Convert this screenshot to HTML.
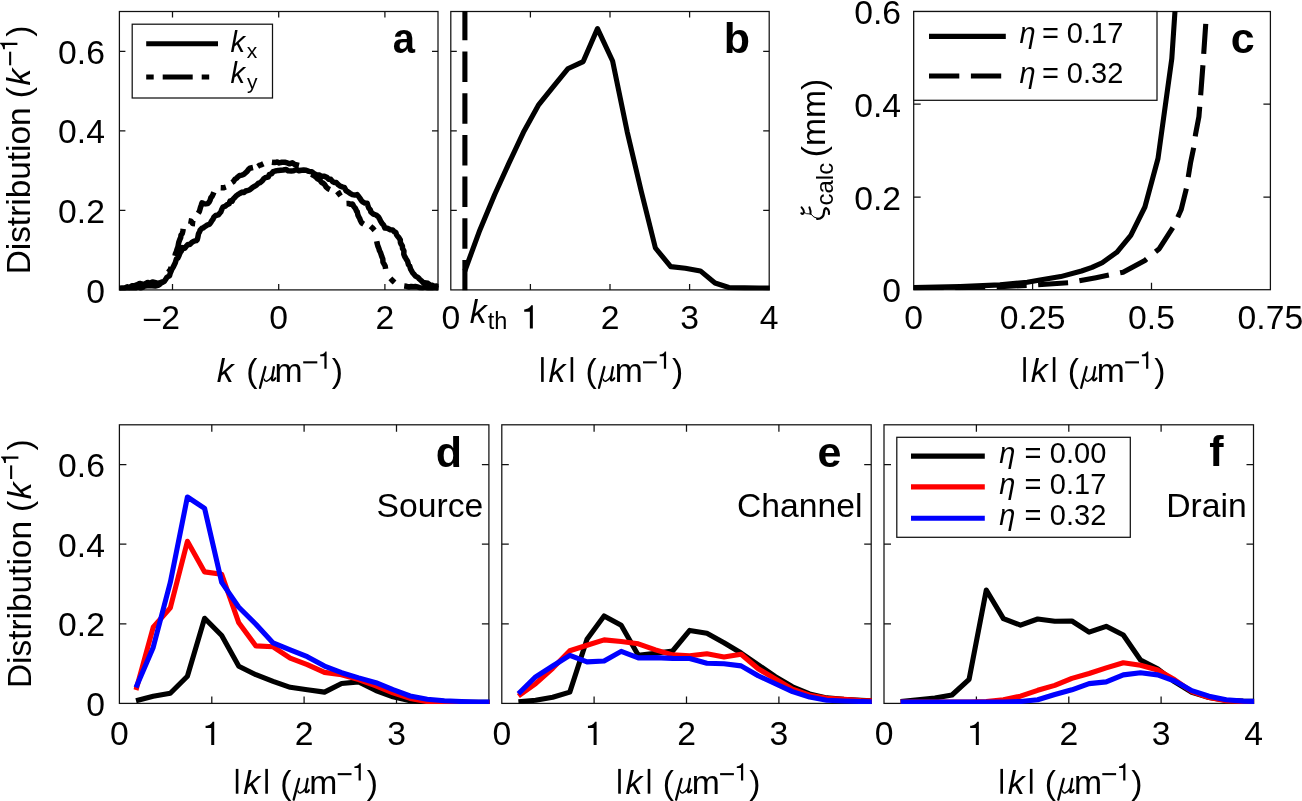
<!DOCTYPE html>
<html><head><meta charset="utf-8"><style>
html,body{margin:0;padding:0;background:#fff;}
body{width:1302px;height:801px;overflow:hidden;font-family:"Liberation Sans",sans-serif;}
svg{display:block;will-change:transform;}
</style></head><body>
<svg width="1302" height="801" viewBox="0 0 1302 801" font-family="'Liberation Sans', sans-serif">
<rect width="1302" height="801" fill="#fff"/>
<defs>
<clipPath id="cpa"><rect x="118.8" y="10.9" width="319.8" height="279.6"/></clipPath>
<clipPath id="cpb"><rect x="450.2" y="10.9" width="319.6" height="279.6"/></clipPath>
<clipPath id="cpc"><rect x="913.1" y="10.9" width="357.9" height="279.4"/></clipPath>
<clipPath id="cpd"><rect x="118.8" y="424.2" width="370.7" height="279.8"/></clipPath>
<clipPath id="cpe"><rect x="501.2" y="424.2" width="370.6" height="279.8"/></clipPath>
<clipPath id="cpf"><rect x="883.4" y="424.2" width="370.7" height="279.8"/></clipPath>
</defs>
<path d="M172.5 289.9V283.9M172.5 11.5V17.5M278.7 289.9V283.9M278.7 11.5V17.5M384.9 289.9V283.9M384.9 11.5V17.5M119.4 210.4H125.4M438 210.4H432M119.4 130.8H125.4M438 130.8H432M119.4 51.3H125.4M438 51.3H432" stroke="#111" stroke-width="1.25" fill="none"/>
<rect x="119.4" y="11.5" width="318.6" height="278.4" stroke="#111" stroke-width="1.25" fill="none"/>
<path d="M530.4 289.9V283.9M530.4 11.5V17.5M610 289.9V283.9M610 11.5V17.5M689.6 289.9V283.9M689.6 11.5V17.5M450.8 210.4H456.8M769.2 210.4H763.2M450.8 130.8H456.8M769.2 130.8H763.2M450.8 51.3H456.8M769.2 51.3H763.2" stroke="#111" stroke-width="1.25" fill="none"/>
<rect x="450.8" y="11.5" width="318.4" height="278.4" stroke="#111" stroke-width="1.25" fill="none"/>
<path d="M1032.6 289.7V282.7M1032.6 11.5V18.5M1151.5 289.7V282.7M1151.5 11.5V18.5M913.7 197H920.7M1270.4 197H1263.4M913.7 104.2H920.7M1270.4 104.2H1263.4" stroke="#111" stroke-width="1.25" fill="none"/>
<rect x="913.7" y="11.5" width="356.7" height="278.2" stroke="#111" stroke-width="1.25" fill="none"/>
<path d="M211.8 703.4V696.4M211.8 424.8V431.8M304.1 703.4V696.4M304.1 424.8V431.8M396.5 703.4V696.4M396.5 424.8V431.8M119.4 623.8H126.4M488.9 623.8H481.9M119.4 544.2H126.4M488.9 544.2H481.9M119.4 464.6H126.4M488.9 464.6H481.9" stroke="#111" stroke-width="1.25" fill="none"/>
<rect x="119.4" y="424.8" width="369.5" height="278.6" stroke="#111" stroke-width="1.25" fill="none"/>
<path d="M594.1 703.4V696.4M594.1 424.8V431.8M686.5 703.4V696.4M686.5 424.8V431.8M778.9 703.4V696.4M778.9 424.8V431.8M501.8 623.8H508.8M871.2 623.8H864.2M501.8 544.2H508.8M871.2 544.2H864.2M501.8 464.6H508.8M871.2 464.6H864.2" stroke="#111" stroke-width="1.25" fill="none"/>
<rect x="501.8" y="424.8" width="369.4" height="278.6" stroke="#111" stroke-width="1.25" fill="none"/>
<path d="M976.4 703.4V696.4M976.4 424.8V431.8M1068.8 703.4V696.4M1068.8 424.8V431.8M1161.1 703.4V696.4M1161.1 424.8V431.8M884 623.8H891M1253.5 623.8H1246.5M884 544.2H891M1253.5 544.2H1246.5M884 464.6H891M1253.5 464.6H1246.5" stroke="#111" stroke-width="1.25" fill="none"/>
<rect x="884" y="424.8" width="369.5" height="278.6" stroke="#111" stroke-width="1.25" fill="none"/>
<g clip-path="url(#cpa)">
<path d="M119.4 288.2 L121.8 288.1 L124.5 288 L127.4 286.8 L129.3 287.5 L132 285.7 L135.1 285.4 L137.4 284.7 L139.7 283.4 L142.3 284.4 L144.8 283.9 L147.6 282.5 L150.2 283.2 L152.5 282 L155.7 282.7 L158.2 283.3 L160.3 282.8 L162 281.9 L164.2 281.6 L166.2 278.5 L167.1 277.1 L169.5 275.9 L170.2 273.3 L171.1 271.1 L171.9 269.1 L173.1 267.3 L174.2 265 L175.3 262.8 L176.4 259 L177.8 258.2 L179.1 255.3 L180.2 252.4 L181.5 250.8 L182.3 247.6 L184.7 248.2 L185.9 246.7 L188 244.4 L189.8 244.4 L192.3 242.1 L194.1 241.1 L196.2 240.6 L197.2 239.7 L197.8 237.6 L198.5 233.8 L199.6 231.7 L200.1 230.2 L202 228.3 L203 228.1 L204.7 226.7 L207.5 224.9 L209.4 224.4 L210.7 222.7 L211.7 220.9 L213.2 218.8 L213.8 217.3 L215.7 215.5 L218.3 214.9 L219.9 213 L220.8 212 L221.5 210.1 L223 207.1 L225 206.3 L227.1 204.6 L229.1 203.8 L230 201.1 L232.1 201.3 L233.2 198.9 L235 197.2 L236.3 195.7 L237.8 194.7 L239.7 193.5 L242.1 192.1 L244 192.6 L245.7 191 L248.2 190.3 L249.6 189.9 L252.1 187.8 L253.7 186.7 L256.2 185.4 L258.2 183.4 L259.8 182.8 L262.2 180.9 L263.7 178.8 L265.9 177.4 L268.2 177.1 L269.3 174.6 L271.6 173.7 L273.3 171.6 L275.2 171 L278.4 170.4 L280.6 170.2 L283.2 170 L286.2 169.5 L288 170.8 L291.3 170.9 L293.5 170.8 L296.5 169.5 L298.9 170.7 L301.4 170.2 L303.6 170 L306.1 170.3 L308.9 171.4 L311.7 171.8 L314.3 173.7 L316.9 174.9 L319.5 175.1 L321.2 176.2 L323.9 176.2 L326.9 177.3 L328.6 179.2 L330.8 179.3 L332.4 181.4 L334.5 182.4 L336.3 182.5 L338.4 184.8 L340 185.9 L342.6 187.1 L344.4 187.4 L346.1 190.8 L347.5 191.5 L350 193.3 L352.4 194.6 L354.9 195.1 L357.1 194.6 L358.5 196.2 L360.7 199.4 L361.3 200.5 L362.8 201.9 L364.9 203.1 L367.2 203.2 L367.8 205.4 L368.8 208.1 L370.4 210 L370.8 211.9 L373.4 214.1 L376.1 215 L378.4 216.8 L379.4 218.6 L380.8 221.4 L382.1 223.5 L383.5 224.9 L384.9 228 L387.3 228.2 L390.3 229.7 L392.6 229.9 L394.4 231.8 L395.7 232.3 L396.6 234.8 L398.1 236.8 L399.3 238.3 L400.3 240 L400.4 242.4 L401 243.9 L402.4 246 L402.5 248.4 L403.9 250.8 L403.8 254.3 L404.7 256.5 L406 258.7 L407.1 260.4 L407.7 261.7 L408.5 264.7 L409.6 265.9 L410.7 269.3 L411.2 270.1 L412.8 273 L413.6 273.7 L415.5 276.1 L417.9 277.4 L419.4 279 L421.3 280.7 L423 282.5 L426 283 L427.9 283.3 L430 285 L432.2 285.3 L434.2 286.2 L436.7 286 L438.5 287.3" stroke="#000" stroke-width="5.5" fill="none" stroke-linejoin="round" stroke-linecap="butt"/>
<path d="M119.4 289 L121.6 289 L124.3 288.7 L126.2 288.8 L128.2 288.6 L130.9 288.9 L132.6 287.9 L135.1 288.6 L138 286.9 L140.7 288.3 L142.9 287.4 L144.8 286.1 L147.6 285.9 L149.7 285.9 L152.2 285.9 L155.3 286.2 L158 285.5 L159.8 284.4 L161.6 282.7 L163.5 282" stroke="#000" stroke-width="5.3" fill="none" stroke-linejoin="round" stroke-linecap="butt"/>
<path d="M168.2 272.4 L169.5 270.9 L170.4 269.4 L171.2 267.1" stroke="#000" stroke-width="5.5" fill="none" stroke-linejoin="round" stroke-linecap="butt"/>
<path d="M175 255.9 L175.4 253.9 L176.5 251.4 L176.9 249.6 L177.9 246.9 L178.4 244.3 L178.8 242.2 L179.8 239.5 L180.7 237.5 L181 235 L182.2 233.7 L182.8 231.3 L183.2 228.9" stroke="#000" stroke-width="5.5" fill="none" stroke-linejoin="round" stroke-linecap="butt"/>
<path d="M188.5 220.7 L191.1 221.2 L192.6 223.4 L195.2 223.7" stroke="#000" stroke-width="5.5" fill="none" stroke-linejoin="round" stroke-linecap="butt"/>
<path d="M198.2 213.2 L199.4 211.4 L200.4 207.7 L201.1 205.7 L202 202.9 L203.8 203.6 L205.8 203.9 L207.7 203.6 L209.1 202.1 L210 200.5 L210.9 197.6 L212.1 196.3 L213 194.4 L213.9 192.2" stroke="#000" stroke-width="5.5" fill="none" stroke-linejoin="round" stroke-linecap="butt"/>
<path d="M220.7 187.7 L223.4 187.8 L225.9 187" stroke="#000" stroke-width="5.5" fill="none" stroke-linejoin="round" stroke-linecap="butt"/>
<path d="M231.9 182.5 L233.3 181.6 L235.1 179.1 L236.7 178.2 L237.6 177.1 L239.7 175.5 L241.8 175.1 L243.6 174.5 L245.6 172.7 L247.1 171.4 L248.6 169.3 L249.8 168.2 L253 167.5" stroke="#000" stroke-width="5.5" fill="none" stroke-linejoin="round" stroke-linecap="butt"/>
<path d="M257.7 166.5 L259.8 165.2 L261.3 164.8 L263.4 163.8" stroke="#000" stroke-width="5.5" fill="none" stroke-linejoin="round" stroke-linecap="butt"/>
<path d="M271.9 162.3 L274.5 162.6 L277.3 162 L279.2 162.9 L281.9 162.3 L284.8 162.3 L287.4 162.9 L289.3 163.8 L292.3 162.8 L294.7 164.5 L296.9 165 L299 165.5" stroke="#000" stroke-width="5.5" fill="none" stroke-linejoin="round" stroke-linecap="butt"/>
<path d="M311.4 174.2 L313.3 175.3 L315.8 176.9 L317.6 178.9 L319.9 180.1 L321.6 182.5 L323 183.1 L324.6 184.6 L326.3 187.2 L328.1 188.7 L329.9 189.5" stroke="#000" stroke-width="5.5" fill="none" stroke-linejoin="round" stroke-linecap="butt"/>
<path d="M336.8 195.3 L339.1 193.5 L341.4 192.2" stroke="#000" stroke-width="5.5" fill="none" stroke-linejoin="round" stroke-linecap="butt"/>
<path d="M346.5 203.5 L348.6 203.4 L350.3 204.2 L352.5 203.9 L353.8 206.5 L355.4 208.3 L356.6 211.1 L357.3 211.9 L357.9 215 L358.9 217.2 L359.9 218.9 L360.2 220.1 L361.6 222.8 L363.7 224.1" stroke="#000" stroke-width="5.5" fill="none" stroke-linejoin="round" stroke-linecap="butt"/>
<path d="M370.5 226.2 L372.2 227.7 L374.6 230.3" stroke="#000" stroke-width="5.5" fill="none" stroke-linejoin="round" stroke-linecap="butt"/>
<path d="M376.7 241.3 L377.1 243.2 L378 246.4 L378.9 248.5 L379.4 250.5 L380.6 252.8 L381.5 255.6 L381.8 256.6 L382.8 259.1 L383 262.2 L384.4 264.7 L385.2 266.1 L385.6 268.8" stroke="#000" stroke-width="5.5" fill="none" stroke-linejoin="round" stroke-linecap="butt"/>
<path d="M390.4 278.4 L392.5 280.6 L394.6 282.5" stroke="#000" stroke-width="5.5" fill="none" stroke-linejoin="round" stroke-linecap="butt"/>
<path d="M404.2 286 L406.5 286.3 L409 287 L411.2 286.5 L413.5 286.8 L415.4 286.6 L417.8 286.9 L419.8 287.8 L422.5 288.1 L424.3 287.2 L426.8 288 L429.5 288.5 L431.9 288.3 L434 288.1 L436.1 288.1 L438.5 288.6" stroke="#000" stroke-width="5.5" fill="none" stroke-linejoin="round" stroke-linecap="butt"/>
</g>
<g clip-path="url(#cpb)">
<path d="M464.9 290.5V11" stroke="#000" stroke-width="5.1" stroke-dasharray="30.5 11.2"/>
<path d="M464.8 271 L479.8 230.2 L494.6 194.7 L509.3 162.4 L524 131.2 L538.8 104.6 L553.3 86.6 L567.8 68.8 L583.2 61.6 L597.5 28.6 L612.6 61 L627.2 131.8 L641.3 191.5 L655.4 248 L670.7 266.6 L685.3 268.2 L700.4 270.9 L715 283 L728.9 287.5 L744.3 287.9 L759 288 L770 288.1" stroke="#000" stroke-width="5.1" fill="none" stroke-linejoin="round" stroke-linecap="butt"/>
</g>
<g clip-path="url(#cpc)">
<path d="M913.7 287.6 L960 286.6 L1000 284.9 L1027.2 282.2 L1040 280.1 L1060.7 276.6 L1081.5 271 L1092 267.4 L1102.2 262.8 L1116.8 252.3 L1130.8 235.3 L1144.9 207 L1158 158.5 L1171.8 58.7 L1176.4 -10" stroke="#000" stroke-width="5.1" fill="none" stroke-linejoin="round" stroke-linecap="butt"/>
<path d="M913.7 288.2 L960 287.6 L1000 286.7 L1036.2 284.9 L1068.8 282.7 L1096 277.7 L1123.1 272.2 L1144.9 260.5 L1159.3 248.7 L1173.8 226 L1181.1 209.8 L1186.5 188 L1190.5 163 L1193.7 147.6 L1195.5 134.5 L1198.9 116.7 L1200.8 93.3 L1203 64.3 L1205.8 23.1" stroke="#000" stroke-width="5.1" fill="none" stroke-linejoin="round" stroke-linecap="butt" stroke-dasharray="30 11.5"/>
</g>
<g clip-path="url(#cpd)">
<path d="M136 700.8 L153.2 696.3 L170.3 693.3 L187.4 676.2 L204.6 618.3 L221.7 635.5 L238.8 666.3 L255.9 674.7 L273.1 681.3 L290.2 687.3 L307.3 689.7 L324.5 692.1 L341.6 683.5 L358.7 681.9 L375.9 690.5 L393 696.8 L410.1 700.8 L427.2 702 L444.4 702.2 L461.5 702.3 L478.6 702.3 L495.8 702.3" stroke="#000000" stroke-width="5.1" fill="none" stroke-linejoin="round" stroke-linecap="butt"/>
<path d="M136 690 L153.2 627.3 L170.3 607.9 L187.4 541.3 L204.6 571.9 L221.7 574.3 L238.8 622.8 L255.9 645.9 L273.1 646.8 L290.2 658.2 L307.3 664.6 L324.5 672.4 L341.6 674.8 L358.7 679.5 L375.9 685.8 L393 692.9 L410.1 698.4 L427.2 701.6 L444.4 702.3 L461.5 702.5 L478.6 702.5 L495.8 702.5" stroke="#ff0000" stroke-width="5.1" fill="none" stroke-linejoin="round" stroke-linecap="butt"/>
<path d="M136 687.6 L153.2 647.4 L170.3 582.4 L187.4 497 L204.6 508.4 L221.7 582.4 L238.8 607.3 L255.9 624.3 L273.1 642.9 L290.2 649.8 L307.3 656.7 L324.5 666.1 L341.6 672.7 L358.7 677.9 L375.9 682.7 L393 689.7 L410.1 696 L427.2 699.2 L444.4 700.8 L461.5 701.5 L478.6 702 L495.8 702" stroke="#0000ff" stroke-width="5.1" fill="none" stroke-linejoin="round" stroke-linecap="butt"/>
</g>
<g clip-path="url(#cpe)">
<path d="M518.4 701.8 L535.6 700.3 L552.7 697.2 L569.8 692.1 L587 639.2 L604.1 616 L621.2 625.3 L638.3 655.3 L655.5 653.3 L672.6 651 L689.7 630.4 L706.9 633.3 L724 642.7 L741.1 653 L758.2 664.8 L775.4 676.6 L792.5 686.8 L809.6 693.9 L826.8 697.9 L843.9 699.4 L861 700.2 L878.2 701" stroke="#000000" stroke-width="5.1" fill="none" stroke-linejoin="round" stroke-linecap="butt"/>
<path d="M518.4 696 L535.6 683.7 L552.7 668.3 L569.8 650.7 L587 645.3 L604.1 639.9 L621.2 641.5 L638.3 643.8 L655.5 649.9 L672.6 654.9 L689.7 655.7 L706.9 653.8 L724 656.9 L741.1 654.2 L758.2 668.7 L775.4 679 L792.5 689.2 L809.6 695.2 L826.8 698.3 L843.9 699.4 L861 700.5 L878.2 701" stroke="#ff0000" stroke-width="5.1" fill="none" stroke-linejoin="round" stroke-linecap="butt"/>
<path d="M518.4 693.7 L535.6 676.8 L552.7 666 L569.8 655.3 L587 661.9 L604.1 661 L621.2 651.4 L638.3 657.9 L655.5 657.6 L672.6 658.4 L689.7 658.5 L706.9 663.2 L724 663.7 L741.1 665.9 L758.2 675.8 L775.4 683.7 L792.5 691.6 L809.6 697.1 L826.8 700.2 L843.9 701 L861 701.5 L878.2 701.8" stroke="#0000ff" stroke-width="5.1" fill="none" stroke-linejoin="round" stroke-linecap="butt"/>
</g>
<g clip-path="url(#cpf)">
<path d="M900.6 701.5 L917.8 699.7 L934.9 698 L952 695 L969.1 679.3 L986.3 590 L1003.4 618.6 L1020.5 625.1 L1037.7 619 L1054.8 621.3 L1071.9 621 L1089.1 632.1 L1106.2 626.3 L1123.3 635 L1140.5 660 L1157.6 668.8 L1174.7 681.9 L1191.8 692.4 L1209 697.6 L1226.1 700.2 L1243.2 701.1 L1260.4 701.5" stroke="#000000" stroke-width="5.1" fill="none" stroke-linejoin="round" stroke-linecap="butt"/>
<path d="M900.6 702 L917.8 702 L934.9 702 L952 702 L969.1 702 L986.3 701.5 L1003.4 699.7 L1020.5 696.2 L1037.7 690.3 L1054.8 685.4 L1071.9 678.4 L1089.1 673.5 L1106.2 667.9 L1123.3 662.7 L1140.5 665.3 L1157.6 670 L1174.7 679.8 L1191.8 691.5 L1209 697.6 L1226.1 700.8 L1243.2 701.5 L1260.4 702" stroke="#ff0000" stroke-width="5.1" fill="none" stroke-linejoin="round" stroke-linecap="butt"/>
<path d="M900.6 702 L917.8 702 L934.9 702 L952 702 L969.1 702 L986.3 702 L1003.4 702 L1020.5 701.5 L1037.7 699.7 L1054.8 694.5 L1071.9 689.8 L1089.1 683.6 L1106.2 681.9 L1123.3 674.9 L1140.5 672.8 L1157.6 674.9 L1174.7 681 L1191.8 690.6 L1209 696.2 L1226.1 699.7 L1243.2 701.1 L1260.4 701.5" stroke="#0000ff" stroke-width="5.1" fill="none" stroke-linejoin="round" stroke-linecap="butt"/>
</g>
<text x="104.9" y="302.5" font-size="33.7" text-anchor="end" font-weight="normal" font-style="normal">0</text>
<text x="104.9" y="223" font-size="33.7" text-anchor="end" font-weight="normal" font-style="normal">0.2</text>
<text x="104.9" y="143.4" font-size="33.7" text-anchor="end" font-weight="normal" font-style="normal">0.4</text>
<text x="104.9" y="63.9" font-size="33.7" text-anchor="end" font-weight="normal" font-style="normal">0.6</text>
<text x="901" y="302.3" font-size="33.7" text-anchor="end" font-weight="normal" font-style="normal">0</text>
<text x="901" y="209.6" font-size="33.7" text-anchor="end" font-weight="normal" font-style="normal">0.2</text>
<text x="901" y="116.8" font-size="33.7" text-anchor="end" font-weight="normal" font-style="normal">0.4</text>
<text x="901" y="24.1" font-size="33.7" text-anchor="end" font-weight="normal" font-style="normal">0.6</text>
<text x="104.9" y="716" font-size="33.7" text-anchor="end" font-weight="normal" font-style="normal">0</text>
<text x="104.9" y="636.4" font-size="33.7" text-anchor="end" font-weight="normal" font-style="normal">0.2</text>
<text x="104.9" y="556.8" font-size="33.7" text-anchor="end" font-weight="normal" font-style="normal">0.4</text>
<text x="104.9" y="477.2" font-size="33.7" text-anchor="end" font-weight="normal" font-style="normal">0.6</text>
<rect x="143.8" y="318.8" width="16.6" height="2.2"/>
<text x="161.31" y="328.6" font-size="33.7" font-style="normal" font-weight="normal">2</text>
<text x="278.7" y="328.6" font-size="33.7" text-anchor="middle" font-weight="normal" font-style="normal">0</text>
<text x="384.9" y="328.6" font-size="33.7" text-anchor="middle" font-weight="normal" font-style="normal">2</text>
<text x="450.8" y="328.6" font-size="33.7" text-anchor="middle" font-weight="normal" font-style="normal">0</text>
<path d="M-0.55 0H2.45V-23.3H0.8C0 -21.5 -2 -19.5 -6.2 -19.2V-16.9H-0.55Z" transform="translate(530.4 328.6) scale(1.0)"/>
<text x="610" y="328.6" font-size="33.7" text-anchor="middle" font-weight="normal" font-style="normal">2</text>
<text x="689.6" y="328.6" font-size="33.7" text-anchor="middle" font-weight="normal" font-style="normal">3</text>
<text x="769.2" y="328.6" font-size="33.7" text-anchor="middle" font-weight="normal" font-style="normal">4</text>
<text x="469.64" y="322.9" font-size="33.7" font-style="italic" font-weight="normal">k</text>
<text x="487.71" y="329" font-size="23.5" font-style="normal" font-weight="normal">th</text>
<text x="913.7" y="328.6" font-size="33.7" text-anchor="middle" font-weight="normal" font-style="normal">0</text>
<text x="1032.6" y="328.6" font-size="33.7" text-anchor="middle" font-weight="normal" font-style="normal">0.25</text>
<text x="1151.5" y="328.6" font-size="33.7" text-anchor="middle" font-weight="normal" font-style="normal">0.5</text>
<text x="1270.4" y="328.6" font-size="33.7" text-anchor="middle" font-weight="normal" font-style="normal">0.75</text>
<text x="119.4" y="745" font-size="33.7" text-anchor="middle" font-weight="normal" font-style="normal">0</text>
<path d="M-0.55 0H2.45V-23.3H0.8C0 -21.5 -2 -19.5 -6.2 -19.2V-16.9H-0.55Z" transform="translate(211.78 745) scale(1.0)"/>
<text x="304.1" y="745" font-size="33.7" text-anchor="middle" font-weight="normal" font-style="normal">2</text>
<text x="396.5" y="745" font-size="33.7" text-anchor="middle" font-weight="normal" font-style="normal">3</text>
<text x="501.8" y="745" font-size="33.7" text-anchor="middle" font-weight="normal" font-style="normal">0</text>
<path d="M-0.55 0H2.45V-23.3H0.8C0 -21.5 -2 -19.5 -6.2 -19.2V-16.9H-0.55Z" transform="translate(594.15 745) scale(1.0)"/>
<text x="686.5" y="745" font-size="33.7" text-anchor="middle" font-weight="normal" font-style="normal">2</text>
<text x="778.9" y="745" font-size="33.7" text-anchor="middle" font-weight="normal" font-style="normal">3</text>
<text x="884" y="745" font-size="33.7" text-anchor="middle" font-weight="normal" font-style="normal">0</text>
<path d="M-0.55 0H2.45V-23.3H0.8C0 -21.5 -2 -19.5 -6.2 -19.2V-16.9H-0.55Z" transform="translate(976.38 745) scale(1.0)"/>
<text x="1068.8" y="745" font-size="33.7" text-anchor="middle" font-weight="normal" font-style="normal">2</text>
<text x="1161.1" y="745" font-size="33.7" text-anchor="middle" font-weight="normal" font-style="normal">3</text>
<text x="1253.5" y="745" font-size="33.7" text-anchor="middle" font-weight="normal" font-style="normal">4</text>
<text x="216.64" y="381.9" font-size="33.7" font-style="italic" font-weight="normal">k</text>
<text x="246.37" y="381.9" font-size="33.7" font-style="normal" font-weight="normal">(</text>
<g transform="translate(258.7 381.9)" fill="none" stroke="#000" stroke-linecap="round">
<path d="M6.7 -14.9L1.3 5.9" stroke-width="2.3"/>
<path d="M5.6 -2.6C6.3 0.6 9.8 -0.4 13.3 -5.4" stroke-width="1.5"/>
<path d="M15.2 -14.9L13.3 -3.4C12.9 -0.9 14.8 -0.6 16.6 -3.6" stroke-width="2.2"/>
</g>
<text x="274.55" y="381.9" font-size="33.7" font-style="normal" font-weight="normal">m</text>
<rect x="303.2" y="361.3" width="14.1" height="2.1"/>
<path d="M-0.55 0H2.45V-23.3H0.8C0 -21.5 -2 -19.5 -6.2 -19.2V-16.9H-0.55Z" transform="translate(324.79 368.8) scale(0.74)"/>
<text x="331.87" y="381.9" font-size="33.7" font-style="normal" font-weight="normal">)</text>
<rect x="541.1" y="357.1" width="2.6" height="24.8"/>
<text x="548.44" y="381.9" font-size="33.7" font-style="italic" font-weight="normal">k</text>
<rect x="570.6" y="357.1" width="2.6" height="24.8"/>
<text x="585.57" y="381.9" font-size="33.7" font-style="normal" font-weight="normal">(</text>
<g transform="translate(597.7 381.9)" fill="none" stroke="#000" stroke-linecap="round">
<path d="M6.7 -14.9L1.3 5.9" stroke-width="2.3"/>
<path d="M5.6 -2.6C6.3 0.6 9.8 -0.4 13.3 -5.4" stroke-width="1.5"/>
<path d="M15.2 -14.9L13.3 -3.4C12.9 -0.9 14.8 -0.6 16.6 -3.6" stroke-width="2.2"/>
</g>
<text x="614.65" y="381.9" font-size="33.7" font-style="normal" font-weight="normal">m</text>
<rect x="643" y="361.3" width="13.8" height="2.1"/>
<path d="M-0.55 0H2.45V-23.3H0.8C0 -21.5 -2 -19.5 -6.2 -19.2V-16.9H-0.55Z" transform="translate(664.29 368.8) scale(0.74)"/>
<text x="672.07" y="381.9" font-size="33.7" font-style="normal" font-weight="normal">)</text>
<rect x="1023.3" y="357.1" width="2.6" height="24.8"/>
<text x="1030.64" y="381.9" font-size="33.7" font-style="italic" font-weight="normal">k</text>
<rect x="1052.8" y="357.1" width="2.6" height="24.8"/>
<text x="1067.77" y="381.9" font-size="33.7" font-style="normal" font-weight="normal">(</text>
<g transform="translate(1079.9 381.9)" fill="none" stroke="#000" stroke-linecap="round">
<path d="M6.7 -14.9L1.3 5.9" stroke-width="2.3"/>
<path d="M5.6 -2.6C6.3 0.6 9.8 -0.4 13.3 -5.4" stroke-width="1.5"/>
<path d="M15.2 -14.9L13.3 -3.4C12.9 -0.9 14.8 -0.6 16.6 -3.6" stroke-width="2.2"/>
</g>
<text x="1096.85" y="381.9" font-size="33.7" font-style="normal" font-weight="normal">m</text>
<rect x="1125.2" y="361.3" width="13.8" height="2.1"/>
<path d="M-0.55 0H2.45V-23.3H0.8C0 -21.5 -2 -19.5 -6.2 -19.2V-16.9H-0.55Z" transform="translate(1146.49 368.8) scale(0.74)"/>
<text x="1154.27" y="381.9" font-size="33.7" font-style="normal" font-weight="normal">)</text>
<rect x="235.8" y="768.9" width="2.6" height="24.8"/>
<text x="243.14" y="793.7" font-size="33.7" font-style="italic" font-weight="normal">k</text>
<rect x="265.3" y="768.9" width="2.6" height="24.8"/>
<text x="280.27" y="793.7" font-size="33.7" font-style="normal" font-weight="normal">(</text>
<g transform="translate(292.4 793.7)" fill="none" stroke="#000" stroke-linecap="round">
<path d="M6.7 -14.9L1.3 5.9" stroke-width="2.3"/>
<path d="M5.6 -2.6C6.3 0.6 9.8 -0.4 13.3 -5.4" stroke-width="1.5"/>
<path d="M15.2 -14.9L13.3 -3.4C12.9 -0.9 14.8 -0.6 16.6 -3.6" stroke-width="2.2"/>
</g>
<text x="309.35" y="793.7" font-size="33.7" font-style="normal" font-weight="normal">m</text>
<rect x="337.7" y="773.1" width="13.8" height="2.1"/>
<path d="M-0.55 0H2.45V-23.3H0.8C0 -21.5 -2 -19.5 -6.2 -19.2V-16.9H-0.55Z" transform="translate(358.99 780.6) scale(0.74)"/>
<text x="366.77" y="793.7" font-size="33.7" font-style="normal" font-weight="normal">)</text>
<rect x="618.2" y="768.9" width="2.6" height="24.8"/>
<text x="625.54" y="793.7" font-size="33.7" font-style="italic" font-weight="normal">k</text>
<rect x="647.7" y="768.9" width="2.6" height="24.8"/>
<text x="662.67" y="793.7" font-size="33.7" font-style="normal" font-weight="normal">(</text>
<g transform="translate(674.8 793.7)" fill="none" stroke="#000" stroke-linecap="round">
<path d="M6.7 -14.9L1.3 5.9" stroke-width="2.3"/>
<path d="M5.6 -2.6C6.3 0.6 9.8 -0.4 13.3 -5.4" stroke-width="1.5"/>
<path d="M15.2 -14.9L13.3 -3.4C12.9 -0.9 14.8 -0.6 16.6 -3.6" stroke-width="2.2"/>
</g>
<text x="691.75" y="793.7" font-size="33.7" font-style="normal" font-weight="normal">m</text>
<rect x="720.1" y="773.1" width="13.8" height="2.1"/>
<path d="M-0.55 0H2.45V-23.3H0.8C0 -21.5 -2 -19.5 -6.2 -19.2V-16.9H-0.55Z" transform="translate(741.39 780.6) scale(0.74)"/>
<text x="749.17" y="793.7" font-size="33.7" font-style="normal" font-weight="normal">)</text>
<rect x="1000.4" y="768.9" width="2.6" height="24.8"/>
<text x="1007.74" y="793.7" font-size="33.7" font-style="italic" font-weight="normal">k</text>
<rect x="1029.9" y="768.9" width="2.6" height="24.8"/>
<text x="1044.87" y="793.7" font-size="33.7" font-style="normal" font-weight="normal">(</text>
<g transform="translate(1057 793.7)" fill="none" stroke="#000" stroke-linecap="round">
<path d="M6.7 -14.9L1.3 5.9" stroke-width="2.3"/>
<path d="M5.6 -2.6C6.3 0.6 9.8 -0.4 13.3 -5.4" stroke-width="1.5"/>
<path d="M15.2 -14.9L13.3 -3.4C12.9 -0.9 14.8 -0.6 16.6 -3.6" stroke-width="2.2"/>
</g>
<text x="1073.95" y="793.7" font-size="33.7" font-style="normal" font-weight="normal">m</text>
<rect x="1102.3" y="773.1" width="13.8" height="2.1"/>
<path d="M-0.55 0H2.45V-23.3H0.8C0 -21.5 -2 -19.5 -6.2 -19.2V-16.9H-0.55Z" transform="translate(1123.59 780.6) scale(0.74)"/>
<text x="1131.37" y="793.7" font-size="33.7" font-style="normal" font-weight="normal">)</text>
<g transform="translate(30.4 271.6) rotate(-90)">
<text x="-2.78" y="0" font-size="33.4" font-style="normal" font-weight="normal">Distribution</text>
<text x="173.27" y="0" font-size="33.7" font-style="normal" font-weight="normal">(</text>
<text x="186.14" y="0" font-size="33.7" font-style="italic" font-weight="normal">k</text>
<rect x="206.3" y="-21.3" width="13.6" height="2.1"/>
<path d="M-0.55 0H2.45V-23.3H0.8C0 -21.5 -2 -19.5 -6.2 -19.2V-16.9H-0.55Z" transform="translate(226.99 -13) scale(0.74)"/>
<text x="234.77" y="0" font-size="33.7" font-style="normal" font-weight="normal">)</text>
</g>
<g transform="translate(31.4 685.3) rotate(-90)">
<text x="-2.78" y="0" font-size="33.4" font-style="normal" font-weight="normal">Distribution</text>
<text x="173.27" y="0" font-size="33.7" font-style="normal" font-weight="normal">(</text>
<text x="186.14" y="0" font-size="33.7" font-style="italic" font-weight="normal">k</text>
<rect x="206.3" y="-21.3" width="13.6" height="2.1"/>
<path d="M-0.55 0H2.45V-23.3H0.8C0 -21.5 -2 -19.5 -6.2 -19.2V-16.9H-0.55Z" transform="translate(226.99 -13) scale(0.74)"/>
<text x="234.77" y="0" font-size="33.7" font-style="normal" font-weight="normal">)</text>
</g>
<g transform="translate(824.5 222) rotate(-90)">
<text x="16.46" y="8.5" font-size="24" font-style="normal" font-weight="normal">calc</text>
<text x="64.77" y="0" font-size="33.7" font-style="normal" font-weight="normal">(mm)</text>
</g>
<g fill="none" stroke="#000" stroke-linecap="round">
<path d="M801.6 207.3Q804.9 211 803.4 213.5Q802.3 214.3 801.3 213.3" stroke-width="2"/>
<path d="M803.8 212.3Q806.3 214.3 809.6 214" stroke-width="0.9"/>
<path d="M809.4 207.3Q810.9 210.6 810.5 213.8" stroke-width="2"/>
<path d="M810.5 213.8Q813.2 217.9 818.7 218.8" stroke-width="1"/>
<path d="M817.2 218.9C822 218.7 823.8 215.6 824 212.2C824.2 209.5 825 208.3 826 208.3" stroke-width="2.3"/>
<path d="M826 208.3C828 208.7 829.5 211 828.9 214" stroke-width="2.1"/>
</g>
<text x="392.61" y="53.4" font-size="43" font-style="normal" font-weight="bold" transform="translate(393.9 0) scale(0.93 1) translate(-393.9 0)">a</text>
<text x="723.73" y="52.9" font-size="43" font-style="normal" font-weight="bold">b</text>
<text x="1230.68" y="53.4" font-size="43" font-style="normal" font-weight="bold">c</text>
<text x="435.78" y="466.6" font-size="43" font-style="normal" font-weight="bold">d</text>
<text x="817.48" y="466.5" font-size="43" font-style="normal" font-weight="bold">e</text>
<text x="1209.18" y="466.4" font-size="43" font-style="normal" font-weight="bold">f</text>
<text x="376.53" y="516.8" font-size="33.7" font-style="normal" font-weight="normal">Source</text>
<text x="737.02" y="516.7" font-size="33.7" font-style="normal" font-weight="normal">Channel</text>
<text x="1166.19" y="516.5" font-size="33.7" font-style="normal" font-weight="normal">Drain</text>
<rect x="132.2" y="24.2" width="140.3" height="73.8" fill="#fff" stroke="#111" stroke-width="1.25"/>
<path d="M146.2 43.7 L218 43.7" stroke="#000" stroke-width="5.1" fill="none" stroke-linejoin="round" stroke-linecap="butt"/>
<path d="M146.2 77 L218 77" stroke="#000" stroke-width="5.1" fill="none" stroke-linejoin="round" stroke-linecap="butt" stroke-dasharray="7.5 9 30 9"/>
<text x="230.52" y="52.2" font-size="29" font-style="italic" font-weight="normal">k</text>
<text x="246.72" y="58" font-size="21" font-style="normal" font-weight="normal">x</text>
<text x="230.52" y="83.2" font-size="29" font-style="italic" font-weight="normal">k</text>
<text x="246.93" y="89.2" font-size="21" font-style="normal" font-weight="normal">y</text>
<rect x="913.7" y="11.5" width="243.3" height="88.8" fill="#fff" stroke="#111" stroke-width="1.25"/>
<path d="M929 36.4 L1005.8 36.4" stroke="#000" stroke-width="5.1" fill="none" stroke-linejoin="round" stroke-linecap="butt"/>
<path d="M929 76 L1005.8 76" stroke="#000" stroke-width="5.1" fill="none" stroke-linejoin="round" stroke-linecap="butt" stroke-dasharray="30.3 11.6"/>
<text x="1019.52" y="43" font-size="29" font-style="italic" font-weight="normal">η</text>
<text x="1042.05" y="43" font-size="29" font-style="normal" font-weight="normal">=</text>
<text x="1066.84" y="43" font-size="29" font-style="normal" font-weight="normal">0.17</text>
<text x="1019.52" y="83" font-size="29" font-style="italic" font-weight="normal">η</text>
<text x="1042.05" y="83" font-size="29" font-style="normal" font-weight="normal">=</text>
<text x="1066.84" y="83" font-size="29" font-style="normal" font-weight="normal">0.32</text>
<rect x="896.8" y="437.3" width="233.5" height="100" fill="#fff" stroke="#111" stroke-width="1.25"/>
<path d="M911 456.1 L984.8 456.1" stroke="#000000" stroke-width="5.1" fill="none" stroke-linejoin="round" stroke-linecap="butt"/>
<text x="999.32" y="462.9" font-size="29" font-style="italic" font-weight="normal">η</text>
<text x="1024.55" y="462.9" font-size="29" font-style="normal" font-weight="normal">=</text>
<text x="1049.84" y="462.9" font-size="29" font-style="normal" font-weight="normal">0.00</text>
<path d="M911 486.9 L984.8 486.9" stroke="#ff0000" stroke-width="5.1" fill="none" stroke-linejoin="round" stroke-linecap="butt"/>
<text x="999.32" y="494" font-size="29" font-style="italic" font-weight="normal">η</text>
<text x="1024.55" y="494" font-size="29" font-style="normal" font-weight="normal">=</text>
<text x="1049.84" y="494" font-size="29" font-style="normal" font-weight="normal">0.17</text>
<path d="M911 518.2 L984.8 518.2" stroke="#0000ff" stroke-width="5.1" fill="none" stroke-linejoin="round" stroke-linecap="butt"/>
<text x="999.32" y="525.2" font-size="29" font-style="italic" font-weight="normal">η</text>
<text x="1024.55" y="525.2" font-size="29" font-style="normal" font-weight="normal">=</text>
<text x="1049.84" y="525.2" font-size="29" font-style="normal" font-weight="normal">0.32</text>
</svg>
</body></html>
